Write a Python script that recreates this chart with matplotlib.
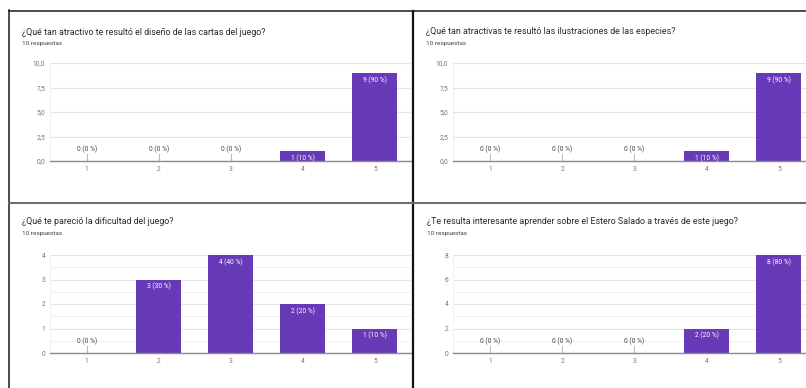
import matplotlib.pyplot as plt
from matplotlib.lines import Line2D
from matplotlib.ticker import MultipleLocator
import matplotlib.transforms as mtransforms

plt.rcParams['font.family'] = ['Roboto', 'DejaVu Sans']

W, H = 806, 388

# datos de las cuatro preguntas
categorias = ['1', '2', '3', '4', '5']
titulos = [
    '¿Qué tan atractivo te resultó el diseño de las cartas del juego?',
    '¿Qué tan atractivas te resultó las ilustraciones de las especies?',
    '¿Qué te pareció la dificultad del juego?',
    '¿Te resulta interesante aprender sobre el Estero Salado a través de este juego?',
]
n_respuestas = [10, 10, 10, 10]
valores_p1 = [0, 0, 0, 1, 9]
valores_p2 = [0, 0, 0, 1, 9]
valores_p3 = [0, 3, 4, 2, 1]
valores_p4 = [0, 0, 0, 2, 8]
y_max = [10, 10, 4, 8]
y_paso = [2.5, 2.5, 1, 2]
y_menor = [None, None, 0.5, 1]
y_etiquetas = [
    ['0,0', '2,5', '5,0', '7,5', '10,0'],
    ['0,0', '2,5', '5,0', '7,5', '10,0'],
    ['0', '1', '2', '3', '4'],
    ['0', '2', '4', '6', '8'],
]
valores = [valores_p1, valores_p2, valores_p3, valores_p4]

# posicion de cada panel en pixeles: izq, der, arriba, base, titulo x, titulo y
paneles = [
    (50, 411, 63, 161, 22, 32),
    (453, 815, 63, 161, 426, 32),
    (50, 411, 255, 353, 22, 222),
    (453, 815, 255, 353, 427, 222),
]

morado = '#673ab7'
gris_texto = '#757575'

fig = plt.figure(figsize=(W / 100, H / 100), dpi=100)
fig.patch.set_facecolor('white')


def fx(x):
    return x / W


def fy(y):
    return 1 - y / H


for i, (l, r, t, b, tx, ty) in enumerate(paneles):
    ax = fig.add_axes([fx(l), fy(b), (r - l) / W, (b - t) / H])
    vals = valores[i]
    total = sum(vals)
    x = range(len(categorias))
    ax.bar(x, vals, width=0.625, color=morado, zorder=3)
    ax.set_xlim(-0.51, 4.5)
    ax.set_ylim(0, y_max[i])
    ax.set_yticks([k * y_paso[i] for k in range(len(y_etiquetas[i]))])
    ax.set_yticklabels(y_etiquetas[i])
    if y_menor[i]:
        ax.yaxis.set_minor_locator(MultipleLocator(y_menor[i]))
        ax.grid(which='minor', axis='y', color='#f2f2f2', lw=0.8, zorder=0)
    ax.grid(which='major', axis='y', color='#e4e4e4', lw=0.8, zorder=0)
    ax.set_xticks(list(x))
    ax.set_xticklabels(categorias)
    ax.tick_params(axis='both', which='both', length=0, labelsize=4.8,
                   colors=gris_texto)
    ax.tick_params(axis='y', pad=3.5)
    ax.tick_params(axis='x', pad=3.5)
    for s in ['top', 'right']:
        ax.spines[s].set_visible(False)
    ax.spines['left'].set_color('#eeeeee')
    ax.spines['left'].set_linewidth(0.6)
    ax.spines['bottom'].set_color('#8a8a8a')
    ax.spines['bottom'].set_linewidth(1.0)
    ax.spines['bottom'].set_zorder(4)

    trans = mtransforms.blended_transform_factory(ax.transData, ax.transAxes)
    for xi, v in zip(x, vals):
        etiqueta = f'{v} ({round(100 * v / total)} %)'
        if v == 0:
            ax.plot([xi, xi], [0, 0.07], color='#bdbdbd', lw=0.8, transform=trans, zorder=2)
            ax.text(xi, 0.075, etiqueta, transform=trans, ha='center', va='bottom',
                    fontsize=4.8, color='#424242')
        else:
            ax.annotate(etiqueta, (xi, v), xytext=(0, -2.5), textcoords='offset points',
                        ha='center', va='top', fontsize=4.8, color='white', zorder=5)

    fig.text(fx(tx), fy(ty), titulos[i], fontsize=6.4, color='#2a2a2a', va='center')
    fig.text(fx(tx), fy(ty + 11), f'{n_respuestas[i]} respuestas', fontsize=4.6,
             color='#424242', va='center')

# marcos de la captura
fig.add_artist(Line2D([fx(9), fx(9)], [fy(10), 0], color='#1a1a1a', lw=1.1,
                      transform=fig.transFigure))
fig.add_artist(Line2D([fx(9), 1], [fy(11), fy(11)], color='#1a1a1a', lw=1.1,
                      transform=fig.transFigure))
fig.add_artist(Line2D([fx(413), fx(413)], [fy(11), 0], color='#111111', lw=1.6,
                      transform=fig.transFigure))
fig.add_artist(Line2D([fx(9), 1], [fy(203), fy(203)], color='#6e6e6e', lw=1.5,
                      transform=fig.transFigure))

fig.savefig('out.png', dpi=100, facecolor='white')
